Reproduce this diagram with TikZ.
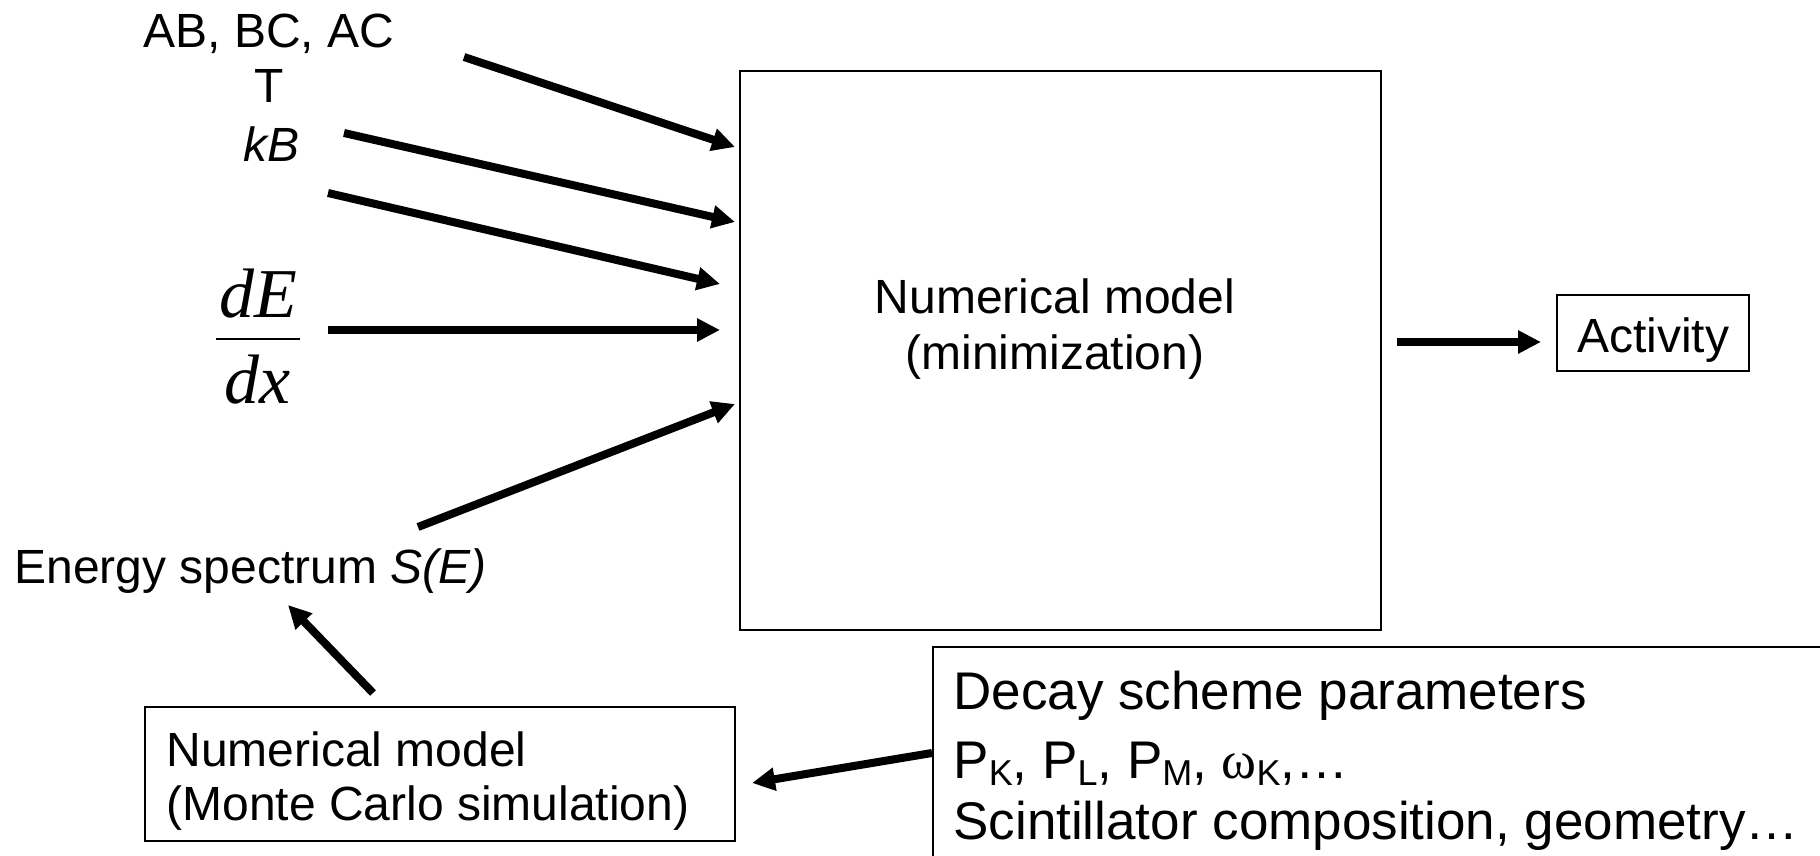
\documentclass[tikz,border=0pt]{standalone}
\usepackage{fontspec}
\setmainfont{Liberation Sans}
\newfontfamily\tms{Liberation Serif}
\usetikzlibrary{arrows.meta}
\newcommand\sbs[1]{\raisebox{-3.8pt}{\fontsize{18}{18}\selectfont #1}}
\tikzset{
 arr/.style={line width=4pt,-{Triangle[length=11.5pt,width=11pt]}},
 box/.style={draw,line width=0.8pt,inner sep=0pt},
 txt/.style={inner sep=0pt,font=\fontsize{24}{28}\selectfont},
 dtxt/.style={inner sep=0pt,font=\fontsize{26.5}{30}\selectfont},
 frac/.style={inner sep=0pt,anchor=base,font=\fontsize{35}{40}\selectfont\tms\itshape},
}
\begin{document}
\begin{tikzpicture}[x=0.5pt,y=-0.5pt]
\useasboundingbox (0,0) rectangle (1820,856);
\clip (0,0) rectangle (1820,856);
% boxes
\node[box,minimum width=320.5pt,minimum height=279.5pt] (big) at (1060.5,350.5) {};
\node[box,minimum width=96pt,minimum height=38pt] (act) at (1653,333) {};
\node[box,minimum width=295pt,minimum height=67pt] (mc) at (440,774) {};
\node[box,anchor=north west,minimum width=470pt,minimum height=140pt] (dec) at (932,646) {};
% texts
\node[txt,anchor=base] (actt) at (1653,352) {Activity};
\node[txt,anchor=base] (abc) at (269,48) {AB, BC, AC};
\node[txt,anchor=base] (T) at (269,103) {T};
\node[txt,anchor=base] (kB) at (272,162) {\itshape kB};
\node[frac] (dE) at (258,317) {dE};
\node[frac] (dx) at (258,403) {dx};
\draw[line width=1.2pt] (216,339) -- (300,339);
\node[txt,anchor=base west] (es) at (14,583) {Energy spectrum \textit{S(E)}};
\node[txt,anchor=base] (bt1) at (1055,313) {Numerical model};
\node[txt,anchor=base] (bt2) at (1055,369) {(minimization)};
\node[txt,anchor=base west] (mc1) at (166,766) {Numerical model};
\node[txt,anchor=base west] (mc2) at (166,820) {(Monte Carlo simulation)};
\node[dtxt,anchor=base west] (d1) at (953,709) {Decay scheme parameters};
\node[dtxt,anchor=base west] (d2) at (953,778) {P\sbs{K}, P\sbs{L}, P\sbs{M}, {\tms ω}\sbs{K},…};
\node[dtxt,anchor=base west] (d3) at (953,839) {Scintillator composition, geometry…};
% arrow ends
\coordinate (a1s) at (464,57);  \coordinate (a1e) at (735,147);
\coordinate (a2s) at (344,133); \coordinate (a2e) at (735,222);
\coordinate (a3s) at (328,193); \coordinate (a3e) at (720,284);
\coordinate (a4s) at (328,330); \coordinate (a4e) at (720,330);
\coordinate (a5s) at (418,527); \coordinate (a5e) at (735,404);
\coordinate (a6s) at (1397,342); \coordinate (a6e) at (1541,342);
\coordinate (a7s) at (373,693); \coordinate (a7e) at (288,605);
\coordinate (a8s) at (932,753); \coordinate (a8e) at (752,783);
\draw[arr] (a1s) -- (a1e);
\draw[arr] (a2s) -- (a2e);
\draw[arr] (a3s) -- (a3e);
\draw[arr] (a4s) -- (a4e);
\draw[arr] (a5s) -- (a5e);
\draw[arr] (a6s) -- (a6e);
\draw[arr] (a7s) -- (a7e);
\draw[arr] (a8s) -- (a8e);
\end{tikzpicture}
\end{document}
